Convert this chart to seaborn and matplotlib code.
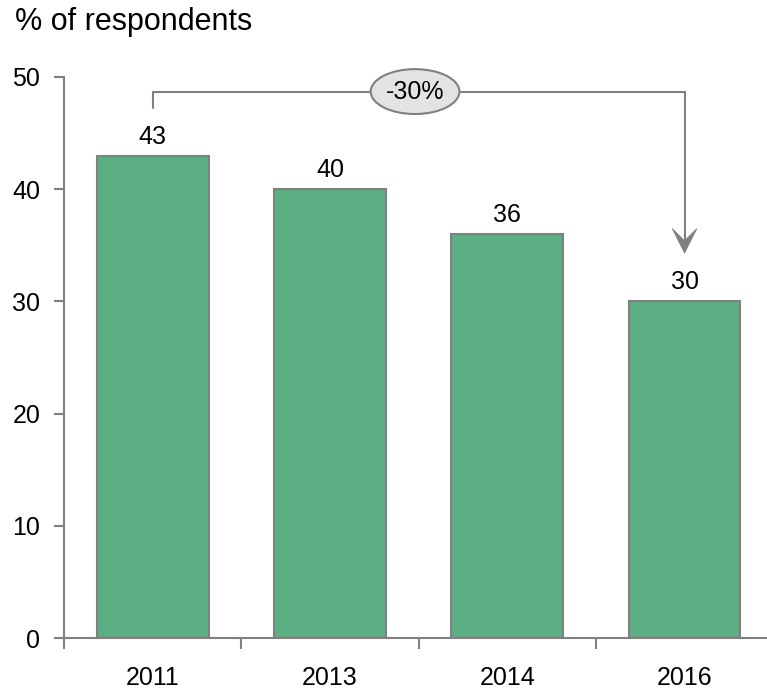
import numpy as np
import pandas as pd
import matplotlib
matplotlib.use("Agg")
import matplotlib.pyplot as plt
import seaborn as sns
from matplotlib.patches import Ellipse, Polygon

years = ["2011", "2013", "2014", "2016"]
share = [43, 40, 36, 30]
change_label = "-30%"

df = pd.DataFrame({"year": years, "share": share})

sns.set_style("white")
plt.rcParams["font.family"] = ["Liberation Sans", "DejaVu Sans"]
plt.rcParams["text.color"] = "black"
plt.rcParams["xtick.color"] = "black"
plt.rcParams["ytick.color"] = "black"

grey = "#808080"
green = "#5BAF82"

fig = plt.figure(figsize=(7.67, 6.92), dpi=100)
ax = fig.add_axes([64 / 767, 1 - 638 / 692, 1 - 64 / 767, (638 - 77) / 692])

sns.barplot(data=df, x="year", y="share", color=green, width=0.63,
            edgecolor=grey, linewidth=1.5, saturation=1, ax=ax)

ax.set_ylim(0, 50)
ax.set_xlim(-0.5, 3.465)
ax.set_yticks(range(0, 51, 10))
ax.set_xlabel("")
ax.set_ylabel("")

# category labels without marks, separator ticks between groups
ax.set_xticks(range(len(years)))
ax.set_xticklabels(years)
ax.set_xticks([-0.5, 0.5, 1.5, 2.5], minor=True)
ax.tick_params(axis="x", which="major", bottom=True, length=0, pad=20,
               labelsize=18, labelcolor="black")
ax.tick_params(axis="x", which="minor", bottom=True, length=8, width=1.5,
               color=grey, direction="out")
ax.tick_params(axis="y", left=True, length=7, width=1.5, color=grey,
               direction="out", pad=10, labelsize=18, labelcolor="black")

for s in ["top", "right"]:
    ax.spines[s].set_visible(False)
for s in ["left", "bottom"]:
    ax.spines[s].set_color(grey)
    ax.spines[s].set_linewidth(1.5)

for c in ax.containers:
    ax.bar_label(c, fmt="%d", padding=5, fontsize=18, color="black")

# change bracket from first to last year
x0, x1 = 0, len(years) - 1
top = 48.7
tip = share[-1] + 4.3
head_len, head_w, notch = 2.2, 0.07, 1.1
ax.plot([x0, x0, x1, x1], [47.2, top, top, tip + notch], color=grey, lw=1.5,
        solid_joinstyle="miter", clip_on=False)
ax.add_patch(Polygon([(x1, tip), (x1 + head_w, tip + head_len), (x1, tip + notch),
                      (x1 - head_w, tip + head_len)], closed=True,
                     facecolor=grey, edgecolor=grey, lw=0.5, zorder=3))
ax.add_patch(Ellipse(((x0 + x1) / 2 - 0.02, top), 0.5, 4.0, facecolor="#E3E3E3",
                     edgecolor=grey, lw=1.5, clip_on=False, zorder=3))
ax.text((x0 + x1) / 2 - 0.02, top, change_label, ha="center", va="center",
        fontsize=18, zorder=4)

fig.text(15 / 767, 1 - 22 / 692, "% of respondents", ha="left", va="center",
         fontsize=22)

fig.savefig("out.png", dpi=100)
